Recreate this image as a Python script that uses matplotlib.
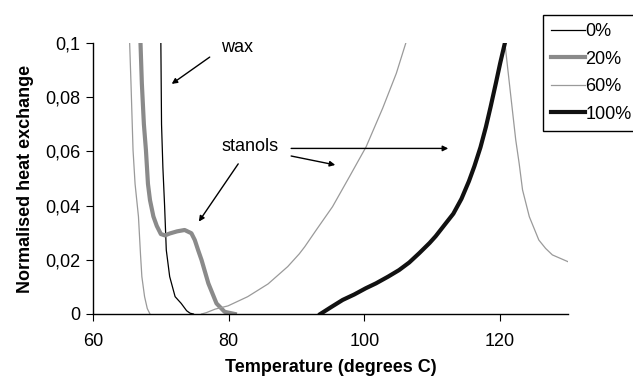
import numpy as np
import matplotlib
matplotlib.use('Agg')
import matplotlib.pyplot as plt

plt.rcParams['font.family'] = ['Liberation Sans', 'DejaVu Sans']
plt.rcParams['font.size'] = 13

nan = np.nan

# 0 % stanols (pure wax)
t_0 = [70.0, 70.05, 70.1, 70.3, 70.55, 70.8, 71.3, 72.1, 73.0, 73.8, 74.3, 74.8]
q_0 = [0.1, 0.085, 0.07, 0.054, 0.04, 0.0236, 0.0138, 0.0064, 0.0039, 0.0012, 0.0003, 0.0]

# 20 % stanols
t_20 = [67.0, 67.2, 67.5, 67.8, 68.1, 68.4, 68.9, 69.4, 70.0, 70.6, 71.3, 72.4,
        73.5, 74.5, 75.0, 75.5, 76.0, 77.0, 78.2, 79.4, 80.9]
q_20 = [0.1, 0.085, 0.07, 0.0605, 0.048, 0.042, 0.036, 0.0325, 0.0295, 0.029, 0.0297, 0.0305,
        0.031, 0.0298, 0.0273, 0.0235, 0.0199, 0.0113, 0.0039, 0.0008, 0.0]

# 60 % stanols (three visible pieces, off scale in between)
t_60 = [65.4, 65.6, 65.9, 66.2, 66.7, 67.0, 67.2, 67.6, 68.0, 68.4, nan,
        76.0, 76.7, 78.0, 79.9, 82.8, 85.8, 88.7, 90.4, 91.2, 92.9, 95.3, 97.8, 100.25,
        102.7, 104.7, 106.1, nan,
        120.7, 121.5, 122.3, 122.8, 123.3, 124.3, 125.7, 126.7, 127.7, 130.0]
q_60 = [0.1, 0.085, 0.0605, 0.048, 0.0359, 0.022, 0.0138, 0.0064, 0.002, 0.0, nan,
        0.0, 0.0005, 0.0018, 0.003, 0.0064, 0.0111, 0.0175, 0.0222, 0.0248, 0.031, 0.0396, 0.0507, 0.0617,
        0.076, 0.0888, 0.1, nan,
        0.1, 0.082, 0.0642, 0.0556, 0.0458, 0.0359, 0.0273, 0.0242, 0.0218, 0.0193]

# 100 % stanols
t_100 = [93.5, 95.0, 96.8, 98.5, 100.2, 101.7, 103.5, 105.1, 106.6, 108.1, 109.6, 110.5,
         112.0, 113.1, 114.3, 115.4, 116.2, 117.1, 117.9, 118.6, 119.4, 120.0, 120.7]
q_100 = [0.0, 0.0024, 0.0052, 0.0072, 0.0095, 0.0113, 0.0138, 0.0162, 0.019, 0.0225, 0.0262, 0.0287,
         0.0335, 0.037, 0.0425, 0.049, 0.0545, 0.0615, 0.069, 0.0765, 0.0855, 0.0925, 0.1]

fig = plt.figure(figsize=(6.33, 3.79), dpi=100)
ax = fig.add_axes([93 / 633, 65 / 379, 475 / 633, 271 / 379])

ax.plot(t_0, q_0, color='black', lw=0.9, label='0%')
ax.plot(t_20, q_20, color='#8a8a8a', lw=3.0, label='20%')
ax.plot(t_60, q_60, color='#9a9a9a', lw=0.9, label='60%')
ax.plot(t_100, q_100, color='#111111', lw=3.0, label='100%')

ax.set_xlim(60, 130)
ax.set_ylim(0, 0.1)
ax.set_xticks([60, 80, 100, 120])
ax.set_yticks([0, 0.02, 0.04, 0.06, 0.08, 0.1])
ax.set_yticklabels(['0', '0,02', '0,04', '0,06', '0,08', '0,1'])
for s in ['top', 'right']:
    ax.spines[s].set_visible(False)
for s in ['left', 'bottom']:
    ax.spines[s].set_linewidth(1.0)
ax.tick_params(axis='y', direction='out', length=5, pad=4)
ax.tick_params(axis='x', direction='out', length=5, pad=9)

ax.set_xlabel('Temperature (degrees C)', fontweight='bold', labelpad=6)
ax.set_ylabel('Normalised heat exchange', fontweight='bold', labelpad=8)

arrow = dict(arrowstyle='-|>', color='black', lw=1.0, mutation_scale=8, shrinkA=0, shrinkB=0)
ax.text(78.8, 0.0982, 'wax', va='center', ha='left')
ax.annotate('', xy=(71.6, 0.0849), xytext=(77.2, 0.0948), arrowprops=arrow)
ax.text(78.9, 0.0617, 'stanols', va='center', ha='left')
ax.annotate('', xy=(75.6, 0.0341), xytext=(81.4, 0.0554), arrowprops=arrow)
ax.annotate('', xy=(112.35, 0.0611), xytext=(89.2, 0.0611), arrowprops=arrow)
ax.annotate('', xy=(95.7, 0.0550), xytext=(89.2, 0.0583), arrowprops=arrow)

leg = ax.legend(loc='upper left', bbox_to_anchor=(543 / 633, 1 - 15 / 379),
                bbox_transform=fig.transFigure, borderaxespad=0, fancybox=False,
                edgecolor='black', framealpha=1, handlelength=1.85, handletextpad=0.05,
                borderpad=0.45, labelspacing=0.58)
leg.get_frame().set_linewidth(1.0)

fig.savefig('out.png', dpi=100)
